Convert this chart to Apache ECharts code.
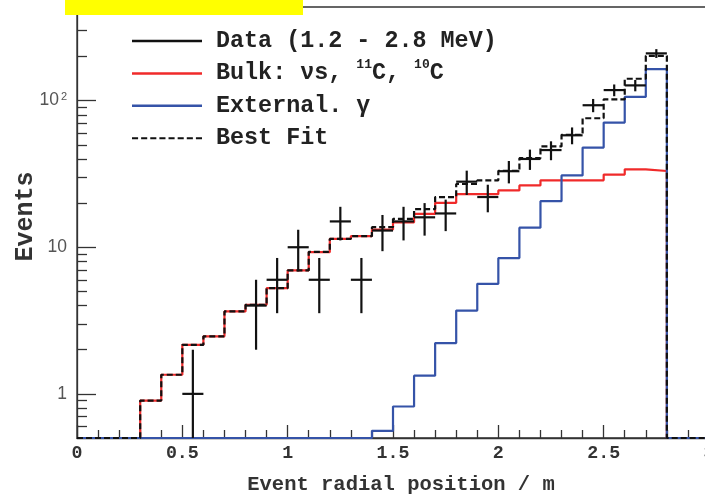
<!DOCTYPE html>
<html><head><meta charset="utf-8">
<script src="https://cdn.jsdelivr.net/npm/echarts@6/dist/echarts.min.js"></script>
<style>html,body{margin:0;padding:0;background:#fff}#c{width:705px;height:494px}</style>
</head><body><div id="c"></div>
<script>
// ---- data ----
const binEdges = [0.0,0.1,0.2,0.3,0.4,0.5,0.6,0.7,0.8,0.9,1.0,1.1,1.2,1.3,1.4,1.5,1.6,1.7,1.8,1.9,2.0,2.1,2.2,2.3,2.4,2.5,2.6,2.7,2.8,2.9];
const xEnd = 3.0;
const binWidth = 0.1;
const bulk = [0,0,0,0.90,1.35,2.16,2.47,3.65,4.05,5.26,6.95,9.26,11.4,11.9,13.2,14.8,16.9,20.1,23.0,23.0,24.4,26.4,28.6,28.6,28.6,31.3,34.0,33.1,0,0];
const external = [0,0,0,0,0,0,0,0,0,0,0,0,0,0,0.56,0.82,1.33,2.22,3.70,5.63,8.43,13.6,20.6,30.9,47.8,70.8,106,164,0,0];
const bestFit = [0,0,0,0.90,1.35,2.16,2.47,3.65,4.05,5.26,6.95,9.3,11.4,11.9,13.7,15.6,18.2,22.0,27.0,28.6,33.2,40.5,48.7,58.5,75.8,102,141,202,0,0];
const dataX = [0.55,0.85,0.95,1.05,1.15,1.25,1.35,1.45,1.55,1.65,1.75,1.85,1.95,2.05,2.15,2.25,2.35,2.45,2.55,2.65,2.75];
const dataY = [1,4,6,10,6,15,6,13,15,16,17,28,22,33,40,46,58,93,118,127,210];
const dataErr = [1,2,2.45,3.16,2.45,3.87,2.45,3.6,3.87,4,4.12,5.29,4.69,5.74,6.32,6.78,7.62,9.64,10.86,11.27,14.5];
const yMajorTicks = [1,10,100];
const yMinorTicks = [0.6,0.7,0.8,0.9,2,3,4,5,6,7,8,9,20,30,40,50,60,70,80,90,200,300,400];
const Y_MIN = 0.5, Y_MAX = 435;
const legendLabels = {
  'Data':'Data (1.2 - 2.8 MeV)',
  'Bulk':'Bulk: \u03bds, {sup|11}C, {sup|10}C',
  'External':'External. \u03b3',
  'Best Fit':'Best Fit'
};

// ---- helpers ----
const floorV = v => (v > 0 ? v : Y_MIN); // empty bins drawn on the lower frame, as in the original
function histPoints(vals){
  const pts = binEdges.map((x,i)=>[x, floorV(vals[i])]);
  pts.push([xEnd, floorV(vals[vals.length-1])]);
  return pts;
}
const mono = 'Liberation Mono';
const dashIcon = 'path://M0 0h6v2H0z M9 0h6v2H9z M18 0h6v2h-6z M27 0h6v2h-6z M36 0h6v2h-6z M45 0h6v2h-6z M54 0h6v2h-6z M63 0h6v2h-6z';

const chart = echarts.init(document.getElementById('c'), null, {renderer:'canvas'});
chart.setOption({
  animation:false,
  backgroundColor:'#fff',
  grid:{left:77, right:-4, top:7, bottom:56, outerBoundsMode:'none', containLabel:false,
    show:true, borderColor:'#333', borderWidth:1.3, backgroundColor:'transparent'},
  legend:{
    orient:'vertical', left:132, top:26, padding:0, itemWidth:70, itemHeight:2.5, itemGap:2.4,
    selectedMode:false,
    data:[{name:'Data',icon:'rect'},{name:'Bulk',icon:'rect'},{name:'External',icon:'rect'},{name:'Best Fit',icon:dashIcon}],
    formatter: n => legendLabels[n],
    textStyle:{fontFamily:mono, fontWeight:'bold', fontSize:23.4, color:'#222', lineHeight:30, padding:[0,0,0,9],
      rich:{sup:{fontFamily:mono, fontWeight:'bold', fontSize:13, color:'#222', lineHeight:20, verticalAlign:'top'}}}
  },
  xAxis:{
    type:'value', min:0, max:3, interval:0.5,
    name:'Event radial position / m', nameLocation:'middle', nameGap:36, nameMoveOverlap:false,
    nameTextStyle:{fontFamily:mono, fontWeight:'bold', fontSize:20.5, color:'#333', padding:[0,0,0,16]},
    axisLine:{show:true, lineStyle:{color:'#333', width:1.3}},
    axisTick:{show:true, inside:true, length:13, lineStyle:{color:'#333', width:1.3}},
    minorTick:{show:true, splitNumber:5, length:8, lineStyle:{color:'#333', width:1.3}},
    axisLabel:{fontFamily:mono, fontWeight:'bold', fontSize:18.3, color:'#333', margin:6, showMaxLabel:true},
    splitLine:{show:false}
  },
  yAxis:[{
    type:'log', logBase:10, min:Y_MIN, max:Y_MAX, position:'left',
    name:'Events', nameLocation:'middle', nameGap:39, nameMoveOverlap:false,
    nameTextStyle:{fontFamily:mono, fontWeight:'bold', fontSize:25, color:'#333', padding:[0,0,0,12]},
    axisLine:{show:true, lineStyle:{color:'#333', width:1.3}},
    axisTick:{show:true, inside:true, length:19, customValues:yMajorTicks, lineStyle:{color:'#333', width:1.3}},
    axisLabel:{show:true, customValues:yMajorTicks, margin:10, fontFamily:'Liberation Sans', fontSize:17.5, color:'#555',
      formatter: v => (v >= 100 ? '10{sup|2}' : String(Math.round(v))),
      rich:{sup:{fontFamily:'Liberation Sans', fontSize:11, color:'#555', verticalAlign:'top', lineHeight:13, padding:[0,0,0,2]}}},
    splitLine:{show:false}
  },{
    type:'log', logBase:10, min:Y_MIN, max:Y_MAX, position:'left', offset:0,
    axisLine:{show:false},
    axisTick:{show:true, inside:true, length:10, customValues:yMinorTicks, lineStyle:{color:'#333', width:1.3}},
    axisLabel:{show:false},
    splitLine:{show:false}
  }],
  series:[
    {name:'Bulk', type:'line', step:'end', symbol:'none', z:2, color:'#f02a2a',
      lineStyle:{color:'#f02a2a', width:2.2}, data:histPoints(bulk)},
    {name:'External', type:'line', step:'end', symbol:'none', z:3, color:'#3553a8',
      lineStyle:{color:'#3553a8', width:2.2}, data:histPoints(external)},
    {name:'Best Fit', type:'line', step:'end', symbol:'none', z:4, color:'#111',
      lineStyle:{color:'#111', width:2.2, type:[6,3]}, data:histPoints(bestFit)},
    {name:'Data', type:'custom', z:5, color:'#111', clip:true,
      itemStyle:{color:'#111'},
      encode:{x:0, y:1},
      data:dataX.map((x,i)=>[x, dataY[i], dataErr[i]]),
      renderItem:function(params, api){
        const x = api.value(0), y = api.value(1), e = api.value(2);
        const lo = Math.max(y - e, Y_MIN);
        const pL = api.coord([x - binWidth/2, y]), pR = api.coord([x + binWidth/2, y]);
        const pT = api.coord([x, y + e]), pB = api.coord([x, lo]);
        return {type:'group', children:[
          {type:'line', shape:{x1:pL[0],y1:pL[1],x2:pR[0],y2:pR[1]}, style:{stroke:'#111', lineWidth:2.2}},
          {type:'line', shape:{x1:pT[0],y1:pT[1],x2:pB[0],y2:pB[1]}, style:{stroke:'#111', lineWidth:2.2}}
        ]};
      }}
  ],
  graphic:[{type:'rect', z:100, shape:{x:65, y:0, width:238, height:15}, style:{fill:'#ffff00'}}]
});
</script></body></html>
